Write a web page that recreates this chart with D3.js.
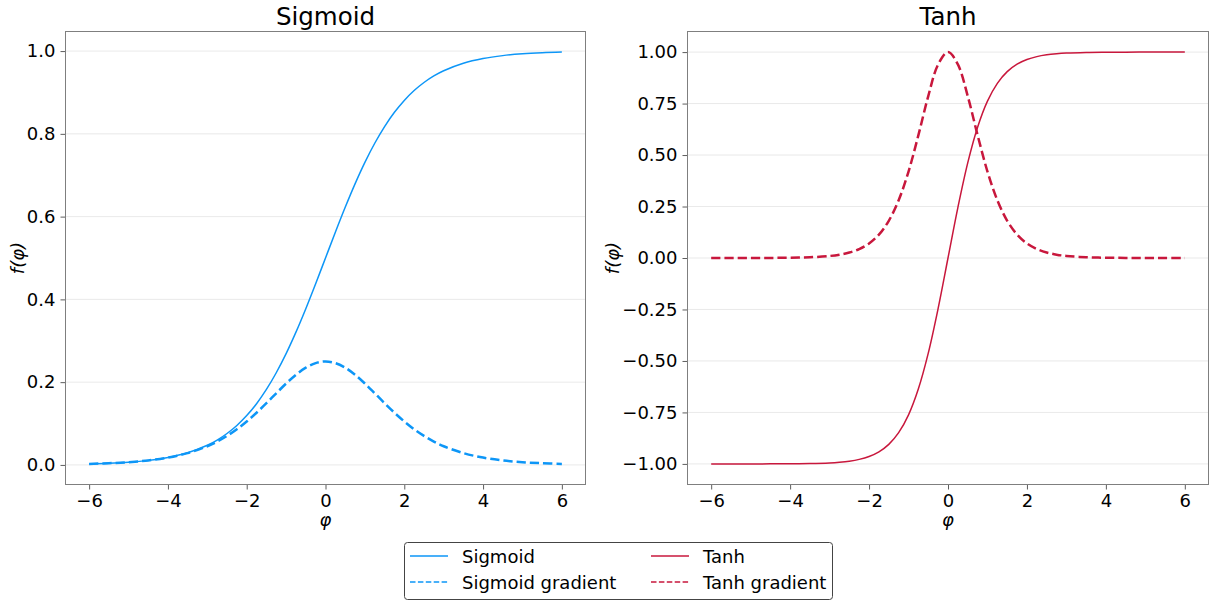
<!DOCTYPE html>
<html>
<head>
<meta charset="utf-8">
<script src="https://cdn.jsdelivr.net/npm/d3@7"></script>
<style>
  body { margin: 0; background: #fff; }
  text { font-family: "DejaVu Sans", sans-serif; fill: #000; }
</style>
</head>
<body>
<div id="chart"></div>
<script>
// values
const xs = [-6, -5.5, -5, -4.5, -4, -3.5, -3, -2.75, -2.5, -2.25, -2, -1.75, -1.5, -1.25, -1, -0.75, -0.5, -0.25,
            0, 0.25, 0.5, 0.75, 1, 1.25, 1.5, 1.75, 2, 2.25, 2.5, 2.75, 3, 3.5, 4, 4.5, 5, 5.5, 6];

const sigmoidVals = [0.0025, 0.0041, 0.0067, 0.0110, 0.0180, 0.0293, 0.0474, 0.0600, 0.0759, 0.0953, 0.1192, 0.1480, 0.1824, 0.2227, 0.2689, 0.3208, 0.3775, 0.4378,
                     0.5, 0.5622, 0.6225, 0.6792, 0.7311, 0.7773, 0.8176, 0.8520, 0.8808, 0.9047, 0.9241, 0.9400, 0.9526, 0.9707, 0.9820, 0.9890, 0.9933, 0.9959, 0.9975];

const sigmoidGrad = [0.0025, 0.0041, 0.0066, 0.0109, 0.0177, 0.0285, 0.0452, 0.0564, 0.0701, 0.0862, 0.1050, 0.1261, 0.1491, 0.1731, 0.1966, 0.2179, 0.2350, 0.2461,
                     0.25, 0.2461, 0.2350, 0.2179, 0.1966, 0.1731, 0.1491, 0.1261, 0.1050, 0.0862, 0.0701, 0.0564, 0.0452, 0.0285, 0.0177, 0.0109, 0.0066, 0.0041, 0.0025];

const tanhVals = [-1.0, -1.0, -0.9999, -0.9998, -0.9993, -0.9982, -0.9951, -0.9918, -0.9866, -0.9780, -0.9640, -0.9414, -0.9051, -0.8483, -0.7616, -0.6351, -0.4621, -0.2449,
                  0, 0.2449, 0.4621, 0.6351, 0.7616, 0.8483, 0.9051, 0.9414, 0.9640, 0.9780, 0.9866, 0.9918, 0.9951, 0.9982, 0.9993, 0.9998, 0.9999, 1.0, 1.0];

const tanhGrad = [0.0, 0.0001, 0.0002, 0.0005, 0.0013, 0.0036, 0.0099, 0.0163, 0.0266, 0.0435, 0.0707, 0.1138, 0.1807, 0.2804, 0.4200, 0.5966, 0.7864, 0.9400,
                  1.0, 0.9400, 0.7864, 0.5966, 0.4200, 0.2804, 0.1807, 0.1138, 0.0707, 0.0435, 0.0266, 0.0163, 0.0099, 0.0036, 0.0013, 0.0005, 0.0002, 0.0001, 0.0];

const xTicks = [-6, -4, -2, 0, 2, 4, 6];
const sigTicks = [0.0, 0.2, 0.4, 0.6, 0.8, 1.0];
const tanhTicks = [-1.0, -0.75, -0.5, -0.25, 0.0, 0.25, 0.5, 0.75, 1.0];

const blue = "#0d96f7", red = "#c8173c";

const W = 1209, H = 603;
const svg = d3.select("#chart").append("svg")
    .attr("width", W)
    .attr("height", H);

function panel(opts) {
  const { left, right, top, bottom, yDomain, yTicks, yFmt, title, series } = opts;

  const x = d3.scaleLinear().domain([-6.6, 6.6]).range([left, right]);
  const y = d3.scaleLinear().domain(yDomain).range([bottom, top]);

  const g = svg.append("g");

  // horizontal grid
  g.append("g").selectAll("line")
    .data(yTicks).enter().append("line")
    .attr("x1", left).attr("x2", right)
    .attr("y1", d => y(d)).attr("y2", d => y(d))
    .attr("stroke", "#e3e3e3").attr("stroke-width", 0.8);

  // curves
  series.forEach(s => {
    const line = d3.line()
      .x((d, i) => x(xs[i]))
      .y(d => y(d))
      .curve(d3.curveCatmullRom);
    g.append("path")
      .datum(s.values)
      .attr("d", line)
      .attr("fill", "none")
      .attr("stroke", s.color)
      .attr("stroke-width", s.width)
      .attr("stroke-dasharray", s.dash || null);
  });

  // axes
  const xAxis = g.append("g")
    .attr("transform", `translate(0,${bottom})`)
    .call(d3.axisBottom(x).tickValues(xTicks).tickSize(5).tickPadding(5)
      .tickFormat(d => d3.format("d")(d).replace("-", "\u2212")));
  const yAxis = g.append("g")
    .attr("transform", `translate(${left},0)`)
    .call(d3.axisLeft(y).tickValues(yTicks).tickSize(5).tickPadding(5)
      .tickFormat(d => d3.format(yFmt)(d).replace("-", "\u2212")));
  [xAxis, yAxis].forEach(a => {
    a.select(".domain").remove();
    a.selectAll("line").attr("stroke", "#333").attr("stroke-width", 0.8);
    a.selectAll("text").attr("font-family", "DejaVu Sans").attr("font-size", 18).attr("fill", "#000");
  });

  // frame
  g.append("rect")
    .attr("x", left).attr("y", top)
    .attr("width", right - left).attr("height", bottom - top)
    .attr("fill", "none").attr("stroke", "#7f7f7f").attr("stroke-width", 1);

  // title and labels
  g.append("text")
    .attr("x", (left + right) / 2).attr("y", 25)
    .attr("text-anchor", "middle")
    .attr("font-size", 24.5)
    .text(title);

  g.append("text")
    .attr("x", (left + right) / 2).attr("y", 526)
    .attr("text-anchor", "middle")
    .attr("font-size", 18)
    .attr("font-style", "italic")
    .text("\u03c6");

  g.append("text")
    .attr("transform", `translate(${opts.ylabelX},${(top + bottom) / 2}) rotate(-90)`)
    .attr("text-anchor", "middle")
    .attr("font-size", 18)
    .attr("font-style", "italic")
    .text("f(\u03c6)");
}

panel({
  left: 65.5, right: 585.5, top: 31.5, bottom: 484.5,
  yDomain: [-0.0473, 1.0473], yTicks: sigTicks, yFmt: ".1f",
  title: "Sigmoid", ylabelX: 24,
  series: [
    { values: sigmoidVals, color: blue, width: 1.5 },
    { values: sigmoidGrad, color: blue, width: 2.5, dash: "9.25,4" }
  ]
});

panel({
  left: 687.5, right: 1208.5, top: 31.5, bottom: 484.5,
  yDomain: [-1.1, 1.1], yTicks: tanhTicks, yFmt: ".2f",
  title: "Tanh", ylabelX: 619,
  series: [
    { values: tanhVals, color: red, width: 1.5 },
    { values: tanhGrad, color: red, width: 2.5, dash: "9.25,4" }
  ]
});

// legend
const legendItems = [
  { label: "Sigmoid", color: blue, dash: null, col: 0, row: 0 },
  { label: "Sigmoid gradient", color: blue, dash: "5.5,2.4", col: 0, row: 1 },
  { label: "Tanh", color: red, dash: null, col: 1, row: 0 },
  { label: "Tanh gradient", color: red, dash: "5.5,2.4", col: 1, row: 1 }
];

const lg = svg.append("g");
lg.append("rect")
  .attr("x", 404.5).attr("y", 542.5)
  .attr("width", 428).attr("height", 57)
  .attr("rx", 3)
  .attr("fill", "#fff").attr("stroke", "#444").attr("stroke-width", 1);

const colX = [410, 651];
const rowY = [556, 582];
legendItems.forEach(d => {
  const x0 = colX[d.col], yy = rowY[d.row];
  lg.append("line")
    .attr("x1", x0).attr("x2", x0 + 38)
    .attr("y1", yy).attr("y2", yy)
    .attr("stroke", d.color).attr("stroke-width", 1.5)
    .attr("stroke-dasharray", d.dash);
  lg.append("text")
    .attr("x", x0 + 52).attr("y", yy + 6.5)
    .attr("font-size", 18)
    .text(d.label);
});
</script>
</body>
</html>
